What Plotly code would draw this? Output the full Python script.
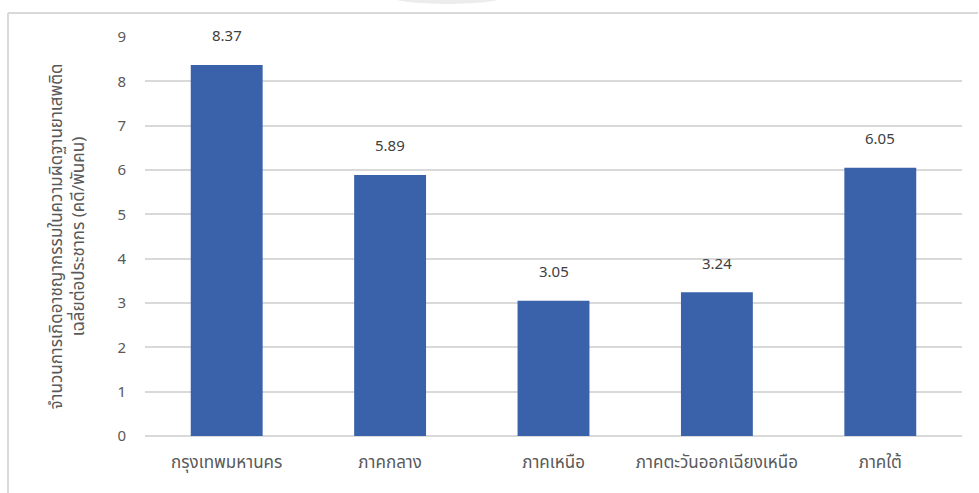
import plotly.graph_objects as go

# Regional drug-offence rates (cases per 1,000 population)
regions = ["กรุงเทพมหานคร", "ภาคกลาง", "ภาคเหนือ", "ภาคตะวันออกเฉียงเหนือ", "ภาคใต้"]
rates = [8.37, 5.89, 3.05, 3.24, 6.05]
y_ticks = [0, 1, 2, 3, 4, 5, 6, 7, 8, 9]

FONT = "Tahoma, 'Noto Sans Thai', 'Leelawadee UI', sans-serif"
TEXT = "#595959"

fig = go.Figure(
    go.Bar(
        x=regions,
        y=rates,
        marker=dict(color="#3a62ab", line=dict(width=0)),
        width=0.44,
        hoverinfo="x+y",
    )
)

# value labels sitting above each bar
for r, v in zip(regions, rates):
    fig.add_annotation(
        x=r, y=v, text=f"{v:.2f}", showarrow=False,
        yshift=28, font=dict(size=15, color="#404040", family=FONT),
    )

# chart frame (top and left edges) and soft shadow at the top
fig.add_shape(type="line", xref="paper", yref="paper",
              x0=-0.1677, x1=1.0196, y0=1.0602, y1=1.0602,
              line=dict(color="#d9d9d9", width=2))
fig.add_shape(type="line", xref="paper", yref="paper",
              x0=-0.1677, x1=-0.1677, y0=1.0602, y1=-0.2,
              line=dict(color="#d9d9d9", width=2))
fig.add_shape(type="circle", xref="paper", yref="paper",
              x0=0.30, x1=0.44, y0=1.083, y1=1.12,
              fillcolor="rgba(200,200,200,0.35)", line=dict(width=0), layer="below")

fig.update_layout(
    width=979, height=493,
    margin=dict(l=145, r=17, t=37, b=57),
    paper_bgcolor="white", plot_bgcolor="white",
    showlegend=False,
    font=dict(family=FONT, color=TEXT, size=14),
    bargap=0.56,
    xaxis=dict(
        showgrid=False, showline=False, ticks="",
        ticklabelstandoff=14,
        tickfont=dict(size=17, color=TEXT),
    ),
    yaxis=dict(
        range=[0, 9], tickvals=y_ticks,
        showgrid=True, gridcolor="#d9d9d9", gridwidth=1.5,
        zeroline=True, zerolinecolor="#d9d9d9", zerolinewidth=1.5,
        showline=False, ticks="", ticklabelstandoff=18,
        tickfont=dict(size=15, color=TEXT),
        title=dict(
            text="จำนวนการเกิดอาชญากรรมในความผิดฐานยาเสพติด<br>เฉลี่ยต่อประชากร (คดี/พันคน)",
            font=dict(size=17, color=TEXT), standoff=28,
        ),
    ),
)

fig.write_html("out.html")
